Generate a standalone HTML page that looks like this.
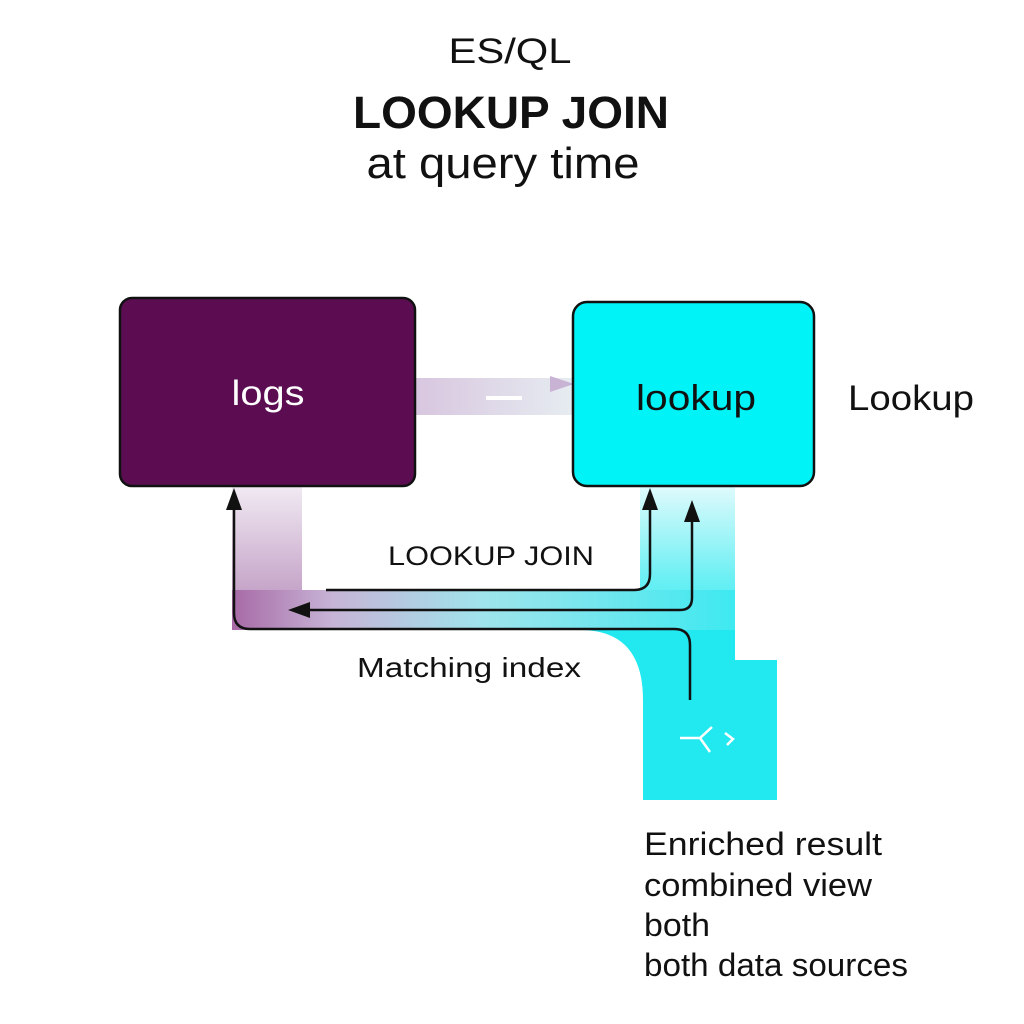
<!DOCTYPE html>
<html><head><meta charset="utf-8"><style>
html,body{margin:0;padding:0;background:#fff;}
svg{display:block;font-family:"Liberation Sans",sans-serif;}
</style></head><body>
<svg width="1024" height="1024" viewBox="0 0 1024 1024" xmlns="http://www.w3.org/2000/svg">
<defs>
<linearGradient id="top" x1="0" x2="1" y1="0" y2="0">
<stop offset="0" stop-color="#d8c6df"/><stop offset="1" stop-color="#e6ecf1"/>
</linearGradient>
<linearGradient id="band" x1="0" x2="1" y1="0" y2="0">
<stop offset="0" stop-color="#a76aa6"/><stop offset="0.2" stop-color="#c7b4d6"/><stop offset="0.5" stop-color="#9fe4ec"/><stop offset="1" stop-color="#3ee9f0"/>
</linearGradient>
<linearGradient id="vstrip" x1="0" x2="0" y1="0" y2="1">
<stop offset="0" stop-color="#f1eaf3"/><stop offset="1" stop-color="#b58ab9"/>
</linearGradient>
<linearGradient id="cyv" x1="0" x2="0" y1="0" y2="1">
<stop offset="0" stop-color="#e0fafc"/><stop offset="0.5" stop-color="#6ef0f4"/><stop offset="1" stop-color="#1ee8ef"/>
</linearGradient>
</defs>

<text x="510" y="63" font-size="35" text-anchor="middle" fill="#111" textLength="123" lengthAdjust="spacingAndGlyphs">ES/QL</text>
<text x="511" y="128" font-size="45" font-weight="bold" text-anchor="middle" fill="#111" textLength="316" lengthAdjust="spacingAndGlyphs">LOOKUP JOIN</text>
<text x="503" y="178" font-size="44" text-anchor="middle" fill="#111" textLength="273" lengthAdjust="spacingAndGlyphs">at query time</text>

<rect x="415" y="378" width="158" height="37" fill="url(#top)"/>
<path d="M550,376 L574,384 L550,392 z" fill="#c8b3d4"/>
<rect x="486" y="396" width="36" height="4" fill="#fff"/>

<rect x="232" y="486" width="70" height="144" fill="url(#vstrip)"/>
<rect x="640" y="486" width="95" height="180" fill="url(#cyv)"/>
<rect x="232" y="590" width="503" height="40" fill="url(#band)"/>
<path d="M580,630 L735,630 L735,660 L777,660 L777,800 L643,800 L643,700 Q643,630 580,630 z" fill="#22e9f0"/>
<rect x="302" y="486" width="338" height="104" fill="#fff"/>

<rect x="120" y="298" width="295" height="188" rx="12" fill="#5c0d52" stroke="#111" stroke-width="2.5"/>
<rect x="573" y="302" width="241" height="184" rx="14" fill="#00f4f7" stroke="#111" stroke-width="2.5"/>
<text x="268" y="405" font-size="35" text-anchor="middle" fill="#fff" textLength="73" lengthAdjust="spacingAndGlyphs">logs</text>
<text x="696" y="410" font-size="36" text-anchor="middle" fill="#111" textLength="120" lengthAdjust="spacingAndGlyphs">lookup</text>
<text x="911" y="410" font-size="35" text-anchor="middle" fill="#111" textLength="126" lengthAdjust="spacingAndGlyphs">Lookup</text>

<g fill="none" stroke="#111" stroke-width="2.5">
<path d="M690,700 L690,645 Q690,629 674,629 L250,629 Q234,629 234,613 L234,505"/>
<path d="M326,590 L634,590 Q650,590 650,574 L650,505"/>
<path d="M680,610 Q692,610 692,598 L692,518"/>
<path d="M680,610 L305,610"/>
</g>
<path d="M234,488 L242,510 L226,510 z" fill="#111"/>
<path d="M650,488 L658,510 L642,510 z" fill="#111"/>
<path d="M692,500 L700,522 L684,522 z" fill="#111"/>
<path d="M288,610 L310,602 L310,618 z" fill="#111"/>

<g stroke="#fff" stroke-width="2.5" fill="none">
<path d="M680,738 L700,738 L712,727"/>
<path d="M700,738 L710,752"/>
<path d="M725,733 L733,739 L727,745"/>
</g>

<text x="491" y="565" font-size="27" text-anchor="middle" fill="#111" textLength="206" lengthAdjust="spacingAndGlyphs">LOOKUP JOIN</text>
<text x="469" y="677" font-size="28" text-anchor="middle" fill="#111" textLength="224" lengthAdjust="spacingAndGlyphs">Matching index</text>

<g font-size="32" fill="#111">
<text x="644" y="855" textLength="238" lengthAdjust="spacingAndGlyphs">Enriched result</text>
<text x="644" y="896" textLength="228" lengthAdjust="spacingAndGlyphs">combined view</text>
<text x="644" y="936" textLength="66" lengthAdjust="spacingAndGlyphs">both</text>
<text x="644" y="976" textLength="264" lengthAdjust="spacingAndGlyphs">both data sources</text>
</g>
</svg>
</body></html>
